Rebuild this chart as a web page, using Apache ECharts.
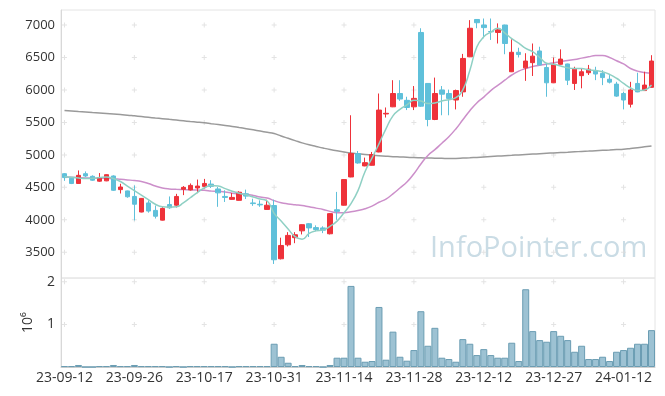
<!DOCTYPE html>
<html>
<head>
<meta charset="utf-8">
<script src="https://cdn.jsdelivr.net/npm/echarts@6/dist/echarts.min.js"></script>
<style>
  html, body { margin: 0; padding: 0; background: #fff; }
  #chart { width: 665px; height: 396px; }
</style>
</head>
<body>
<div id="chart"></div>
<script>
// 거래일 (85일)
const dates = [
  '23-09-12','23-09-13','23-09-14','23-09-15','23-09-18','23-09-19','23-09-20','23-09-21','23-09-22','23-09-25',
  '23-09-26','23-09-27','23-10-04','23-10-05','23-10-06','23-10-10','23-10-11','23-10-12','23-10-13','23-10-16',
  '23-10-17','23-10-18','23-10-19','23-10-20','23-10-23','23-10-24','23-10-25','23-10-26','23-10-27','23-10-30',
  '23-10-31','23-11-01','23-11-02','23-11-03','23-11-06','23-11-07','23-11-08','23-11-09','23-11-10','23-11-13',
  '23-11-14','23-11-15','23-11-16','23-11-17','23-11-20','23-11-21','23-11-22','23-11-23','23-11-24','23-11-27',
  '23-11-28','23-11-29','23-11-30','23-12-01','23-12-04','23-12-05','23-12-06','23-12-07','23-12-08','23-12-11',
  '23-12-12','23-12-13','23-12-14','23-12-15','23-12-18','23-12-19','23-12-20','23-12-21','23-12-22','23-12-26',
  '23-12-27','23-12-28','24-01-02','24-01-03','24-01-04','24-01-05','24-01-08','24-01-09','24-01-10','24-01-11',
  '24-01-12','24-01-15','24-01-16','24-01-17','24-01-18'
]
const tickDates = ['23-09-12','23-09-26','23-10-17','23-10-31','23-11-14','23-11-28','23-12-12','23-12-27','24-01-12']
const priceTicks = [3500, 4000, 4500, 5000, 5500, 6000, 6500, 7000]
const volumeTicks = [1000000, 2000000]

const openVals = [
  4710,4640,4560,4710,4670,4595,4600,4675,4465,4445,
  4360,4120,4260,4145,3995,4235,4225,4470,4460,4490,
  4515,4550,4475,4360,4315,4300,4400,4260,4240,4160,
  4220,3400,3615,3725,3830,3940,3880,3875,3785,4155,
  4225,4660,5020,4830,4840,5045,5630,5740,5945,5840,
  5740,6885,6100,5545,6000,5945,5845,5970,6510,7085,
  7000,6900,6885,7000,6280,6580,6340,6420,6600,6345,
  6110,6395,6400,6100,6220,6265,6295,6255,6165,6090,
  5945,5780,6100,5990,6040
]
const closeVals = [
  4650,4560,4685,4675,4610,4650,4695,4455,4505,4355,
  4240,4330,4135,4055,4175,4185,4360,4500,4530,4520,
  4560,4515,4415,4345,4345,4425,4365,4250,4230,4225,
  3385,3605,3760,3770,3925,3875,3850,3840,4095,4130,
  4620,5020,4875,4880,5005,5690,5640,5945,5860,5730,
  5870,5750,5545,5945,5935,5870,5990,6485,6950,7035,
  6960,6895,6925,6715,6580,6545,6445,6520,6385,6110,
  6395,6475,6150,6320,6280,6320,6245,6190,6120,5905,
  5845,6000,5970,6075,6445
]
const lowVals = [
  4600,4550,4555,4660,4600,4585,4595,4445,4405,4340,
  3990,4115,4110,4020,3990,4170,4190,4380,4450,4410,
  4480,4490,4200,4275,4310,4295,4320,4215,4200,4155,
  3320,3390,3590,3640,3775,3735,3825,3795,3775,4000,
  4220,4655,4865,4825,4835,5040,5575,5735,5832,5690,
  5690,5740,5440,5535,5610,5610,5700,5895,6505,6950,
  6795,6770,6715,6550,6275,6500,6140,6215,6380,5895,
  6105,6390,6075,6000,6025,6230,6151,6074,6100,5894,
  5700,5730,5965,5985,6035
]
const highVals = [
  4720,4650,4760,4745,4685,4720,4700,4685,4555,4450,
  4530,4335,4300,4220,4195,4360,4400,4520,4560,4620,
  4630,4610,4505,4455,4413,4440,4465,4325,4300,4310,
  4310,3725,3810,3810,3930,3950,3915,3900,4105,4430,
  4625,5610,5060,4958,5045,5945,5730,6150,6150,5895,
  6060,6950,6100,6190,6060,6005,6005,6555,7075,7090,
  7100,7100,7025,7005,6780,6650,6565,6715,6665,6400,
  6500,6625,6405,6357,6330,6385,6357,6305,6228,6125,
  5970,6125,6265,6280,6535
]
const volumeVals = [
  20000,20000,47000,0,0,20000,20000,47000,20000,20000,
  47000,20000,20000,20000,20000,0,20000,0,20000,20000,
  20000,20000,20000,20000,0,20000,20000,20000,20000,20000,
  546000,240000,100000,20000,47000,20000,20000,0,47000,218000,
  218000,1904000,218000,124000,140000,1410000,171000,830000,241000,148000,
  398000,1310000,499000,920000,218000,187000,124000,655000,546000,280000,
  420000,280000,218000,218000,570000,140000,1826000,843000,632000,593000,
  843000,733000,632000,358000,499000,187000,187000,241000,140000,358000,
  398000,452000,546000,546000,866000
]
// 이동평균선
const ma5Vals = [
  4665,4655,4645,4635,4640,4650,4660,4635,4590,4520,
  4450,4380,4310,4240,4200,4195,4200,4260,4340,4420,
  4490,4530,4520,4480,4440,4410,4385,4350,4320,4290,
  4100,3980,3860,3740,3700,3790,3830,3845,3900,3980,
  4110,4250,4450,4740,4950,5170,5400,5600,5700,5770,
  5840,5830,5790,5800,5830,5850,5880,6000,6300,6660,
  6820,6890,6950,6880,6790,6720,6640,6590,6500,6410,
  6395,6370,6340,6330,6330,6310,6300,6280,6240,6180,
  6100,6030,5990,6000,6075
]
const ma20Vals = [
  4660,4655,4650,4645,4642,4640,4637,4634,4625,4615,
  4605,4590,4560,4520,4490,4475,4470,4466,4462,4458,
  4454,4445,4437,4428,4410,4400,4392,4375,4350,4335,
  4295,4262,4245,4233,4222,4200,4180,4160,4130,4110,
  4110,4125,4145,4170,4210,4270,4320,4400,4490,4582,
  4710,4860,4990,5080,5180,5280,5400,5540,5680,5800,
  5890,5990,6070,6150,6230,6290,6330,6360,6380,6400,
  6418,6435,6455,6470,6490,6510,6530,6530,6500,6450,
  6400,6330,6290,6270,6260
]
const ma120Vals = [
  5683,5676,5668,5660,5652,5645,5637,5629,5621,5612,
  5601,5590,5579,5568,5558,5547,5536,5525,5514,5504,
  5493,5480,5467,5453,5438,5421,5404,5386,5367,5348,
  5328,5290,5255,5220,5185,5155,5130,5105,5082,5062,
  5045,5030,5018,5006,4996,4988,4980,4973,4968,4963,
  4958,4955,4952,4949,4947,4945,4946,4950,4955,4961,
  4968,4975,4981,4987,4993,5000,5006,5012,5018,5024,
  5030,5036,5041,5047,5053,5058,5064,5070,5075,5081,
  5087,5098,5110,5124,5138
]

const candleData = dates.map((d, i) => [openVals[i], closeVals[i], lowVals[i], highVals[i]])
const pricePlus = []
const volumePlus = []
tickDates.forEach(d => {
  priceTicks.forEach(v => pricePlus.push([d, v]))
  volumeTicks.forEach(v => volumePlus.push([d, v]))
})

const upColor = '#ee323a'
const downColor = '#5fc0da'
const plusSymbol = 'path://M2,0H3V2H5V3H3V5H2V3H0V2H2Z'
const labelFont = '"Open Sans", "DejaVu Sans", sans-serif'

const myChart = echarts.init(document.getElementById('chart'))
myChart.setOption({
  animation: false,
  graphic: [{
    type: 'text',
    left: 430,
    top: 234,
    z: 0,
    style: {
      text: 'InfoPointer.com',
      font: '29px "Open Sans", sans-serif',
      fill: '#cadce5'
    }
  }],
  grid: [
    { left: 61, right: 10, top: 10, height: 268, show: true, borderColor: '#e4e4e4', borderWidth: 1 },
    { left: 61, right: 10, top: 278, height: 89, show: true, borderColor: '#e4e4e4', borderWidth: 1 }
  ],
  xAxis: [
    {
      type: 'category', gridIndex: 0, data: dates, boundaryGap: true,
      axisLine: { show: false }, axisTick: { show: false }, axisLabel: { show: false },
      splitLine: { show: false }
    },
    {
      type: 'category', gridIndex: 1, data: dates, boundaryGap: true,
      axisLine: { show: true, lineStyle: { color: '#d0d0d0' } },
      axisTick: { show: false },
      axisLabel: {
        interval: (i, v) => tickDates.includes(v),
        color: '#333', fontSize: 14, fontFamily: labelFont, margin: 4
      },
      splitLine: { show: false }
    }
  ],
  yAxis: [
    {
      type: 'value', gridIndex: 0, min: 3104, max: 7231, scale: true,
      axisLine: { show: true, lineStyle: { color: '#d8d8d8' } },
      axisTick: { show: false },
      axisLabel: {
        customValues: priceTicks, color: '#333', fontSize: 13, fontFamily: labelFont, margin: 6,
        formatter: v => String(v)
      },
      splitLine: { show: false }
    },
    {
      type: 'value', gridIndex: 1, min: 0, max: 2090000, interval: 1000000,
      name: '10⁶', nameLocation: 'middle', nameRotate: 90, nameGap: 26,
      nameTextStyle: { color: '#333', fontSize: 14, fontFamily: labelFont },
      axisLine: { show: true, lineStyle: { color: '#d8d8d8' } },
      axisTick: { show: false },
      axisLabel: {
        color: '#333', fontSize: 14, fontFamily: labelFont, margin: 6,
        formatter: v => (v === 0 ? '' : String(v / 1000000))
      },
      splitLine: { show: false }
    }
  ],
  series: [
    {
      type: 'scatter', xAxisIndex: 0, yAxisIndex: 0, data: pricePlus,
      symbol: plusSymbol, symbolSize: 5, silent: true, z: 1,
      itemStyle: { color: '#dcdcdc' }
    },
    {
      type: 'scatter', xAxisIndex: 1, yAxisIndex: 1, data: volumePlus,
      symbol: plusSymbol, symbolSize: 5, silent: true, z: 1,
      itemStyle: { color: '#dcdcdc' }
    },
    {
      name: 'MA120', type: 'line', xAxisIndex: 0, yAxisIndex: 0, data: ma120Vals,
      smooth: true, symbol: 'none', z: 3,
      lineStyle: { color: '#9a9a9a', width: 1.5 }
    },
    {
      name: 'MA20', type: 'line', xAxisIndex: 0, yAxisIndex: 0, data: ma20Vals,
      smooth: true, symbol: 'none', z: 3,
      lineStyle: { color: '#cc8fca', width: 1.5 }
    },
    {
      name: 'price', type: 'candlestick', xAxisIndex: 0, yAxisIndex: 0, data: candleData,
      barWidth: 5, z: 4,
      itemStyle: {
        color: upColor, color0: downColor,
        borderColor: upColor, borderColor0: downColor, borderWidth: 1
      }
    },
    {
      name: 'MA5', type: 'line', xAxisIndex: 0, yAxisIndex: 0, data: ma5Vals,
      smooth: true, symbol: 'none', z: 5,
      lineStyle: { color: '#8fd0c4', width: 1.5 }
    },
    {
      name: 'volume', type: 'bar', xAxisIndex: 1, yAxisIndex: 1, data: volumeVals,
      barWidth: '100%', z: 2,
      itemStyle: { color: '#9dc2d3', borderColor: '#6b9db3', borderWidth: 1 }
    }
  ]
})
</script>
</body>
</html>
